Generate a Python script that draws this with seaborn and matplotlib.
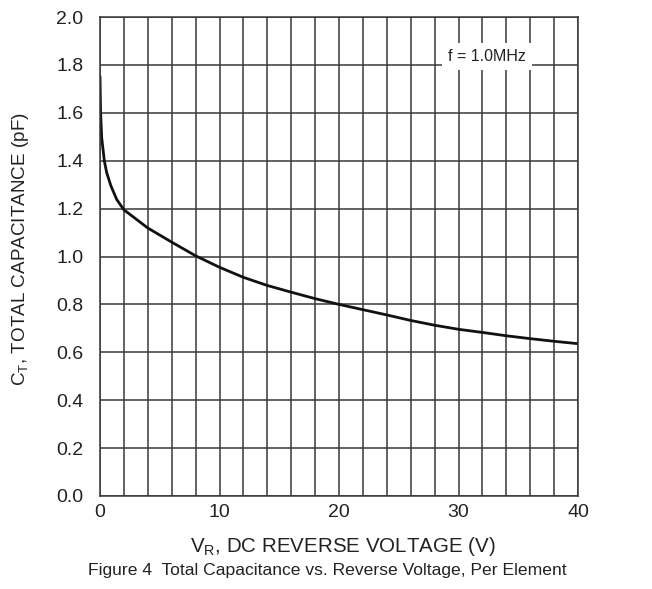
import matplotlib
matplotlib.use("Agg")
import matplotlib.pyplot as plt
import seaborn as sns
import numpy as np
import pandas as pd
from matplotlib.ticker import MultipleLocator, FormatStrFormatter

# Data
v_r = [0, 0.05, 0.14, 0.36, 0.56, 0.92, 1.4, 2, 4, 6, 8, 10, 12, 14, 16, 18,
       20, 22, 24, 26, 28, 30, 32, 34, 36, 38, 40]
c_t = [1.753, 1.60, 1.497, 1.40, 1.350, 1.294, 1.238, 1.195, 1.119, 1.060, 1.003,
       0.955, 0.913, 0.879, 0.851, 0.824, 0.800, 0.778, 0.756, 0.733, 0.713,
       0.696, 0.683, 0.669, 0.657, 0.646, 0.636]
x_ticks = [0, 10, 20, 30, 40]
y_ticks = [0.0, 0.2, 0.4, 0.6, 0.8, 1.0, 1.2, 1.4, 1.6, 1.8, 2.0]

sns.set_style("white")
plt.rcParams['font.family'] = ['Liberation Sans', 'DejaVu Sans']
plt.rcParams['mathtext.fontset'] = 'custom'
plt.rcParams['mathtext.rm'] = 'Liberation Sans'

df = pd.DataFrame({"V": v_r, "C": c_t})

fig = plt.figure(figsize=(6.52, 5.89), dpi=100)
ax = fig.add_axes([100/652, 1-496/589, 478/652, 479/589])

gc = "#383838"
tc = "#222222"
ax.set_xlim(0, 40)
ax.set_ylim(0, 2.0)
ax.xaxis.set_major_locator(MultipleLocator(10))
ax.xaxis.set_minor_locator(MultipleLocator(2))
ax.yaxis.set_major_locator(MultipleLocator(0.2))
ax.yaxis.set_major_formatter(FormatStrFormatter('%.1f'))
ax.grid(which='both', axis='x', color=gc, lw=1.1)
ax.grid(which='major', axis='y', color=gc, lw=1.1)
ax.set_axisbelow(True)

sns.lineplot(data=df, x="V", y="C", ax=ax, color="#111111", lw=2.0,
             estimator=None, sort=False)

for s in ax.spines.values():
    s.set_color(gc)
    s.set_linewidth(1.1)

ax.tick_params(axis='both', which='both', length=0, labelsize=14, colors=tc)
ax.tick_params(axis='x', pad=5.5)
ax.tick_params(axis='y', pad=12)
ax.set_xticks(x_ticks)
ax.set_yticks(y_ticks)

ax.set_xlabel(r'$\mathregular{V_R}$, DC REVERSE VOLTAGE (V)', fontsize=14.8, color=tc,
              va='baseline')
ax.xaxis.set_label_coords((343-100)/478, (496-552)/479)
ax.set_ylabel(r'$\mathregular{C_T}$, TOTAL CAPACITANCE (pF)', fontsize=13.6, color=tc,
              va='center')
ax.yaxis.set_label_coords((21-100)/478, 0.515)

ax.text(32.4, 1.835, 'f = 1.0MHz', fontsize=11.5, ha='center', va='center', color=tc,
        bbox=dict(facecolor='white', edgecolor='none', pad=4.5))

fig.text(327/652, 1-575/589, 'Figure 4  Total Capacitance vs. Reverse Voltage, Per Element',
         fontsize=12.6, ha='center', va='baseline', color=tc)

fig.savefig("out.png", dpi=100)
